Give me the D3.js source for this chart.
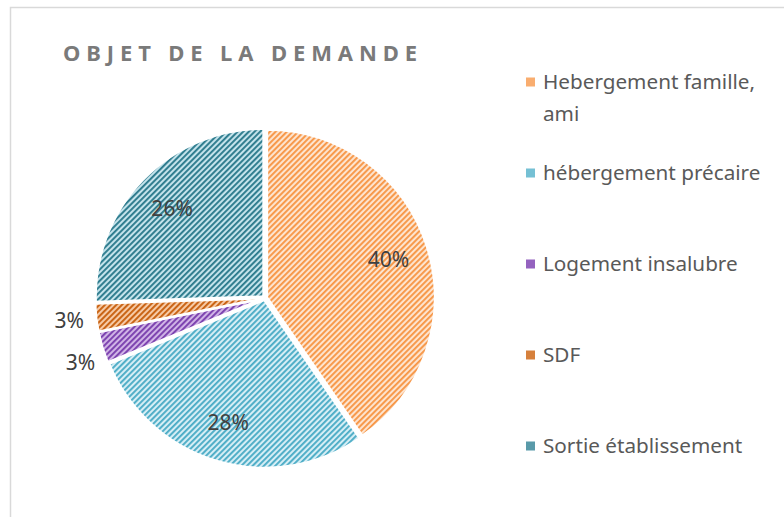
<!DOCTYPE html>
<html>
<head>
<meta charset="utf-8">
<script src="https://cdn.jsdelivr.net/npm/d3@7"></script>
<style>
body { margin: 0; background: #fff; }
svg { display: block; }
</style>
</head>
<body>
<svg id="chart" width="784" height="517"></svg>
<script>
// donnees du graphique
var categories = ["Hebergement famille, ami", "hébergement précaire", "Logement insalubre", "SDF", "Sortie établissement"];
var values = [40.4, 28.4, 3.0, 2.7, 25.5];
var title = "OBJET DE LA DEMANDE";

// couleurs (hachures + fond clair)
var stripeColors = ["#f79646", "#4bacc6", "#7a3fae", "#c8600f", "#2b7a8c"];
var lightColors = ["#fde4cf", "#d6eef5", "#d0b4e6", "#f6caa6", "#c4e3eb"];

var width = 784, height = 517;
var radius = 168;
var cx = 265, cy = 298;

var svg = d3.select("#chart");
var defs = svg.append("defs");

// motif hachure diagonale par serie
categories.forEach(function (c, i) {
    var p = defs.append("pattern")
        .attr("id", "hatch" + i)
        .attr("patternUnits", "userSpaceOnUse")
        .attr("width", 4)
        .attr("height", 4)
        .attr("patternTransform", "rotate(45)");
    p.append("rect")
        .attr("width", 4)
        .attr("height", 4)
        .attr("fill", lightColors[i]);
    p.append("rect")
        .attr("width", 1.9)
        .attr("height", 4)
        .attr("fill", stripeColors[i]);
});

// cadre
svg.append("rect")
    .attr("x", 10.5)
    .attr("y", 7.5)
    .attr("width", width)
    .attr("height", height)
    .attr("fill", "none")
    .attr("stroke", "#d9d9d9")
    .attr("stroke-width", 1.5);

// titre, espacement des lettres ajuste a la largeur
var titleText = svg.append("text")
    .attr("x", 63)
    .attr("y", 61)
    .attr("font-family", "'Noto Sans', sans-serif")
    .attr("font-weight", "bold")
    .attr("font-size", 22)
    .attr("fill", "#7a7a7a")
    .text(title);
var natural = titleText.node().getComputedTextLength();
titleText.attr("letter-spacing", ((354 - natural) / (title.length - 1)) + "px");

// camembert
var total = d3.sum(values);
var pie = d3.pie().sort(null).value(function (d) { return d; }).startAngle(0);
var arcs = pie(values);
var arc = d3.arc().innerRadius(0).outerRadius(radius);
var labelArc = d3.arc().innerRadius(radius * 0.77).outerRadius(radius * 0.77);
var outerLabelArc = d3.arc().innerRadius(radius + 29).outerRadius(radius + 29);

var g = svg.append("g").attr("transform", "translate(" + cx + "," + cy + ")");

g.selectAll(".slice")
    .data(arcs)
    .enter().append("path")
    .attr("class", "slice")
    .attr("d", arc)
    .attr("transform", function (d) {
        var a = (d.startAngle + d.endAngle) / 2;
        return "translate(" + (Math.sin(a) * 2) + "," + (-Math.cos(a) * 2) + ")";
    })
    .attr("fill", function (d, i) { return "url(#hatch" + i + ")"; })
    .attr("stroke", "#fff")
    .attr("stroke-width", 2.5)
    .attr("stroke-linejoin", "round");

// positions des etiquettes, celles a l'exterieur ecartees si trop proches
var labelPos = arcs.map(function (d) {
    var outside = d.data / total < 0.05;
    var c = outside ? outerLabelArc.centroid(d) : labelArc.centroid(d);
    return { x: c[0], y: c[1], outside: outside };
});
var outs = labelPos.filter(function (p) { return p.outside; })
    .sort(function (a, b) { return a.y - b.y; });
for (var k = 1; k < outs.length; k++) {
    if (outs[k].y - outs[k - 1].y < 42) {
        outs[k].y = outs[k - 1].y + 42;
        outs[k].x += 4;
    }
}

g.selectAll(".label")
    .data(arcs)
    .enter().append("text")
    .attr("class", "label")
    .attr("transform", function (d, i) {
        return "translate(" + labelPos[i].x + "," + labelPos[i].y + ")";
    })
    .attr("text-anchor", "middle")
    .attr("dy", "0.36em")
    .attr("font-family", "'Noto Sans', sans-serif")
    .attr("font-size", 21)
    .attr("fill", "#404040")
    .text(function (d) { return Math.round(d.data / total * 100) + "%"; });

// legende
var legendX = 526;
var legendRows = [82, 173, 264, 355, 446];
var legend = svg.append("g");

categories.forEach(function (c, i) {
    legend.append("rect")
        .attr("x", legendX)
        .attr("y", legendRows[i] - 4.5)
        .attr("width", 9)
        .attr("height", 9)
        .attr("fill", d3.interpolateRgb(lightColors[i], stripeColors[i])(0.7));

    var t = legend.append("text")
        .attr("x", legendX + 17)
        .attr("y", legendRows[i])
        .attr("dy", "0.36em")
        .attr("font-family", "'Noto Sans', sans-serif")
        .attr("font-size", 20.7)
        .attr("fill", "#595959");

    // retour a la ligne simple
    var words = c.split(" ");
    var line = [];
    var tspan = t.append("tspan").attr("x", legendX + 17);
    words.forEach(function (w) {
        line.push(w);
        tspan.text(line.join(" "));
        if (tspan.node().getComputedTextLength() > 228 && line.length > 1) {
            line.pop();
            tspan.text(line.join(" "));
            line = [w];
            tspan = t.append("tspan")
                .attr("x", legendX + 17)
                .attr("dy", 32)
                .text(w);
        }
    });
});
</script>
</body>
</html>
